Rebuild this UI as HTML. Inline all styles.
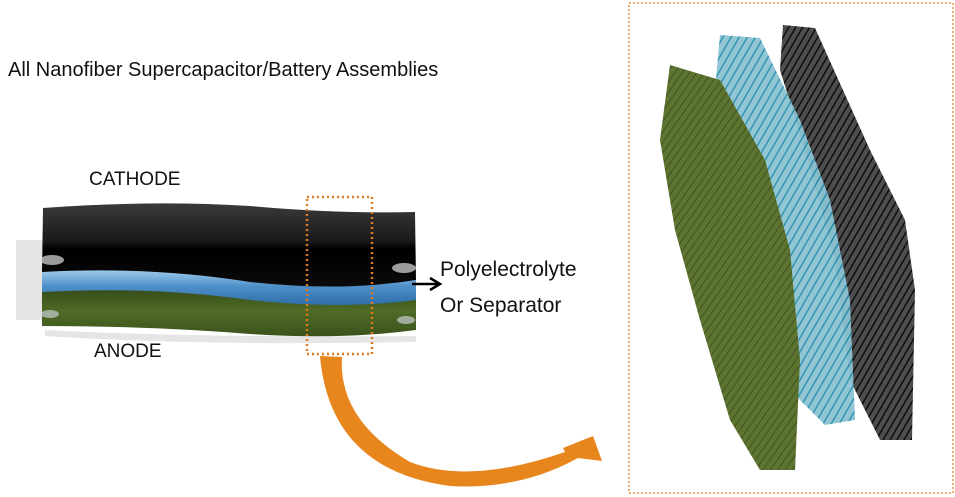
<!DOCTYPE html>
<html><head><style>
body{margin:0;background:#fff;}
svg{display:block}
text{font-family:"Liberation Sans",sans-serif;fill:#111}
</style></head><body>
<svg width="955" height="497" viewBox="0 0 955 497">
<defs>
<pattern id="pg" width="6" height="6" patternUnits="userSpaceOnUse" patternTransform="rotate(35)">
<rect width="6" height="6" fill="#5d7430"/><line x1="0" y1="0" x2="0" y2="6" stroke="#3e5220" stroke-width="2"/></pattern>
<pattern id="pc" width="7" height="7" patternUnits="userSpaceOnUse" patternTransform="rotate(30)">
<rect width="7" height="7" fill="#8cc3d2"/><line x1="0" y1="0" x2="0" y2="7" stroke="#2a8fae" stroke-width="3"/></pattern>
<pattern id="pb" width="6" height="6" patternUnits="userSpaceOnUse" patternTransform="rotate(30)">
<rect width="6" height="6" fill="#444"/><line x1="0" y1="0" x2="0" y2="6" stroke="#000" stroke-width="3"/></pattern>
<linearGradient id="gb" x1="0" y1="0" x2="0" y2="1"><stop offset="0" stop-color="#3a3a3a"/><stop offset="0.45" stop-color="#1a1a1a"/><stop offset="0.55" stop-color="#000"/><stop offset="1" stop-color="#0a0a0a"/></linearGradient>
<linearGradient id="gl" x1="0" y1="0" x2="0" y2="1"><stop offset="0" stop-color="#a8d2f0"/><stop offset="0.5" stop-color="#4e8fc8"/><stop offset="1" stop-color="#2f6ea8"/></linearGradient>
<linearGradient id="gg" x1="0" y1="0" x2="0" y2="1"><stop offset="0" stop-color="#33481a"/><stop offset="0.5" stop-color="#4f6b25"/><stop offset="1" stop-color="#3b531c"/></linearGradient>
</defs>
<text x="8" y="76" font-size="20">All Nanofiber Supercapacitor/Battery Assemblies</text>
<text x="89" y="185" font-size="19">CATHODE</text>
<text x="94" y="357" font-size="19">ANODE</text>
<text x="440" y="276" font-size="21">Polyelectrolyte</text>
<text x="440" y="312" font-size="21">Or Separator</text>
<!-- shadow -->
<rect x="16" y="240" width="28" height="80" fill="#ccc" opacity="0.5"/>
<path d="M45 330 Q200 338 416 336 L416 342 Q200 346 45 336 Z" fill="#ccc" opacity="0.5"/>
<!-- green -->
<path d="M42 288 Q150 282 250 296 Q340 306 416 298 L416 330 Q340 340 250 334 Q150 326 42 326 Z" fill="url(#gg)"/>
<!-- blue -->
<path d="M42 270 Q150 264 250 278 Q340 290 416 280 L416 300 Q340 310 250 300 Q150 286 42 292 Z" fill="url(#gl)"/>
<!-- black -->
<path d="M43 208 Q150 200 250 206 Q340 214 415 212 L416 280 Q340 292 250 282 Q150 266 42 272 Z" fill="url(#gb)"/>
<ellipse cx="52" cy="260" rx="12" ry="5" fill="#ddd" opacity="0.7"/>
<ellipse cx="404" cy="268" rx="12" ry="5" fill="#ddd" opacity="0.7"/>
<ellipse cx="50" cy="314" rx="9" ry="4" fill="#dde" opacity="0.6"/>
<ellipse cx="406" cy="320" rx="9" ry="4" fill="#dde" opacity="0.6"/>
<rect x="307" y="197" width="65" height="157" fill="none" stroke="#e07a1a" stroke-width="2.5" stroke-dasharray="2 3"/>
<line x1="412" y1="284" x2="438" y2="284" stroke="#000" stroke-width="2.5"/>
<path d="M430 278 L440 284 L430 290" fill="none" stroke="#000" stroke-width="2.5"/>
<!-- orange arrow -->
<path d="M320 356 L342 357 Q338 420 410 462 Q470 485 565 452 L563 448 L593 436 L602 461 L578 458 Q520 490 450 486 Q330 470 320 356 Z" fill="#e8861e"/>
<!-- right panel -->
<rect x="629" y="3" width="324" height="490" fill="none" stroke="#f0b070" stroke-width="2" stroke-dasharray="2 2"/>
<path d="M783 25 L815 28 L870 150 L905 220 L915 290 L912 440 L880 440 L850 380 L835 260 L805 150 L780 70 Z" fill="url(#pb)" opacity="0.95"/>
<path d="M720 35 L760 38 L800 120 L830 200 L850 300 L855 420 L825 425 L790 390 L770 290 L740 180 L715 90 Z" fill="url(#pc)" opacity="0.95"/>
<path d="M670 65 L720 80 L765 160 L790 250 L800 360 L795 470 L760 470 L730 420 L700 320 L675 230 L660 140 Z" fill="url(#pg)"/>
</svg>
</body></html>
